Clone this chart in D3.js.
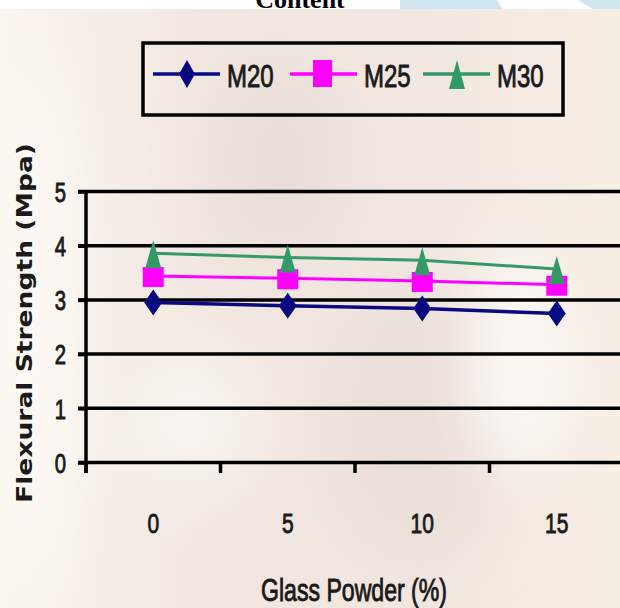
<!DOCTYPE html>
<html>
<head>
<meta charset="utf-8">
<script src="https://cdn.jsdelivr.net/npm/d3@7"></script>
<style>
html,body{margin:0;padding:0;background:#fff;}
svg{display:block;}
</style>
</head>
<body>
<svg id="chart" width="620" height="608"></svg>
<script>
// ---- data ----
const categories = ["0", "5", "10", "15"];
const seriesNames = ["M20", "M25", "M30"];
const m20 = [2.95, 2.89, 2.84, 2.75];
const m25 = [3.44, 3.40, 3.35, 3.28];
const m30 = [3.86, 3.78, 3.73, 3.57];
const yTicks = [0, 1, 2, 3, 4, 5];
const xTitle = "Glass Powder (%)";
const yTitle = "Flexural Strength (Mpa)";
const topText = "Content";

const series = [
  {name: seriesNames[0], values: m20, color: "#0a0a80", shape: "diamond", width: 3.5},
  {name: seriesNames[1], values: m25, color: "#ff00ff", shape: "square", width: 3},
  {name: seriesNames[2], values: m30, color: "#339966", shape: "triangle", width: 3}
];

const svg = d3.select("#chart");
const sans = "'Liberation Sans',Arial,sans-serif";
const squeeze = 0.75;
function condense(sel) {
  sel.each(function() {
    const w = this.getComputedTextLength();
    d3.select(this).attr("textLength", w * squeeze).attr("lengthAdjust", "spacingAndGlyphs");
  });
}
function heavy(sel) {
  sel.attr("stroke", "#1a1a1a").attr("stroke-width", 0.9).attr("paint-order", "stroke");
}

// ---- background (faded photo approximation) ----
const defs = svg.append("defs");
const blur = defs.append("filter").attr("id", "blur").attr("x", "-50%").attr("y", "-50%").attr("width", "200%").attr("height", "200%");
blur.append("feGaussianBlur").attr("stdDeviation", 30);
const bg = defs.append("linearGradient").attr("id", "bgGrad").attr("x1", 0).attr("x2", 1).attr("y1", 0).attr("y2", 0);
bg.append("stop").attr("offset", "0").attr("stop-color", "#faf5ee");
bg.append("stop").attr("offset", "0.35").attr("stop-color", "#f1e6df");
bg.append("stop").attr("offset", "0.7").attr("stop-color", "#f2e7e0");
bg.append("stop").attr("offset", "1").attr("stop-color", "#f7eee4");

svg.append("rect").attr("x", 0).attr("y", 0).attr("width", 620).attr("height", 9).attr("fill", "#ffffff");
svg.append("polygon").attr("points", "400,0 497,0 503,9 400,9").attr("fill", "#cfe5ef");
svg.append("polygon").attr("points", "578,0 620,0 620,9 593,9").attr("fill", "#cfe5ef");
svg.append("rect").attr("x", 0).attr("y", 9).attr("width", 620).attr("height", 599).attr("fill", "url(#bgGrad)");
const blobs = svg.append("g").attr("filter", "url(#blur)");
blobs.append("ellipse").attr("cx", 30).attr("cy", 330).attr("rx", 45).attr("ry", 260).attr("fill", "#fcf9f4");
blobs.append("ellipse").attr("cx", 280).attr("cy", 160).attr("rx", 60).attr("ry", 90).attr("fill", "#e9ddd7");
blobs.append("ellipse").attr("cx", 420).attr("cy", 420).attr("rx", 90).attr("ry", 140).attr("fill", "#ebdfd9");
blobs.append("ellipse").attr("cx", 520).attr("cy", 360).attr("rx", 50).attr("ry", 120).attr("fill", "#fbf8f4");
blobs.append("ellipse").attr("cx", 190).attr("cy", 420).attr("rx", 70).attr("ry", 80).attr("fill", "#f8f3ee");

// top cut-off text (cut off in the reference too)
svg.append("text").attr("x", 300).attr("y", 8).attr("text-anchor", "middle")
  .attr("font-family", "'Liberation Serif','Times New Roman',serif").attr("font-weight", "bold")
  .attr("font-size", 26).attr("fill", "#000").text(topText);

// ---- scales ----
const x = d3.scaleBand().domain(categories).range([86, 86 + 4 * 134.5]);
const y = d3.scaleLinear().domain([0, 5]).range([462.5, 191.5]);

// gridlines
svg.append("g").selectAll("line").data(yTicks).join("line")
  .attr("x1", 78).attr("x2", 620)
  .attr("y1", d => y(d)).attr("y2", d => y(d))
  .attr("stroke", "#000").attr("stroke-width", 3.5);

// y axis
const yAxis = svg.append("g").attr("transform", "translate(86,0)")
  .call(d3.axisLeft(y).tickValues(yTicks).tickSize(8).tickPadding(12).tickFormat(d3.format("d")));
yAxis.select(".domain").remove();
yAxis.selectAll(".tick line").attr("stroke", "#000").attr("stroke-width", 3.5);
yAxis.selectAll(".tick text").attr("font-family", sans).attr("font-size", 27).attr("fill", "#1a1a1a").attr("dy", "0.36em").call(condense).call(heavy);
svg.append("line").attr("x1", 86).attr("x2", 86).attr("y1", y(5) - 1.5).attr("y2", 473)
  .attr("stroke", "#000").attr("stroke-width", 3.5);

// x axis
const xAxis = svg.append("g").attr("transform", `translate(0,${y(0)})`)
  .call(d3.axisBottom(x).tickSize(0).tickPadding(70));
xAxis.select(".domain").remove();
xAxis.selectAll(".tick text").attr("font-family", sans).attr("font-size", 28).attr("fill", "#1a1a1a").attr("dy", "0").call(condense).call(heavy);
svg.append("g").selectAll("line").data(categories).join("line")
  .attr("x1", d => x(d)).attr("x2", d => x(d))
  .attr("y1", y(0)).attr("y2", 473)
  .attr("stroke", "#000").attr("stroke-width", 3.5);

// axis titles
svg.append("text").attr("x", 354).attr("y", 601).attr("text-anchor", "middle")
  .attr("font-family", sans).attr("font-size", 32).attr("fill", "#1a1a1a")
  .attr("textLength", 186).attr("lengthAdjust", "spacingAndGlyphs").text(xTitle).call(heavy);
svg.append("text").attr("transform", "translate(32,323) rotate(-90)").attr("text-anchor", "middle")
  .attr("font-family", "'DejaVu Sans',Verdana,sans-serif").attr("font-weight", "bold")
  .attr("font-size", 22).attr("fill", "#1a1a1a")
  .attr("textLength", 360).attr("lengthAdjust", "spacingAndGlyphs").text(yTitle);

// ---- markers ----
function marker(g, shape, cx, cy, color) {
  if (shape === "diamond") {
    g.append("path").attr("d", `M${cx},${cy - 13}L${cx + 9},${cy}L${cx},${cy + 13}L${cx - 9},${cy}Z`).attr("fill", color);
  } else if (shape === "square") {
    g.append("rect").attr("x", cx - 10.5).attr("y", cy - 9).attr("width", 21).attr("height", 20).attr("fill", color);
  } else {
    g.append("path").attr("d", `M${cx},${cy - 13}L${cx + 8},${cy + 15}L${cx - 8},${cy + 15}Z`).attr("fill", color);
  }
}

const line = d3.line().x((d, i) => x(categories[i]) + x.bandwidth() / 2).y(d => y(d));
const plot = svg.append("g");
series.forEach(s => {
  plot.append("path").datum(s.values).attr("d", line).attr("fill", "none")
    .attr("stroke", s.color).attr("stroke-width", s.width);
  s.values.forEach((v, i) => marker(plot, s.shape, x(categories[i]) + x.bandwidth() / 2, y(v), s.color));
});

// ---- legend ----
const lg = svg.append("g");
lg.append("rect").attr("x", 143).attr("y", 43).attr("width", 420).attr("height", 72)
  .attr("fill", "none").attr("stroke", "#000").attr("stroke-width", 3.5);
const legendX = [153, 290, 423];
series.forEach((s, i) => {
  const lx = legendX[i];
  const ly = 74;
  lg.append("line").attr("x1", lx).attr("x2", lx + 67).attr("y1", ly).attr("y2", ly)
    .attr("stroke", s.color).attr("stroke-width", 3.5);
  if (s.shape === "square") {
    lg.append("rect").attr("x", lx + 23).attr("y", ly - 14).attr("width", 19).attr("height", 27).attr("fill", s.color);
  } else if (s.shape === "diamond") {
    lg.append("path").attr("d", `M${lx + 34},${ly - 14}L${lx + 42},${ly}L${lx + 34},${ly + 14}L${lx + 26},${ly}Z`).attr("fill", s.color);
  } else {
    lg.append("path").attr("d", `M${lx + 34},${ly - 14}L${lx + 42},${ly + 15}L${lx + 26},${ly + 15}Z`).attr("fill", s.color);
  }
  lg.append("text").attr("x", lx + 74).attr("y", 87).attr("font-family", sans)
    .attr("font-size", 32).attr("fill", "#1a1a1a").text(s.name).call(condense).call(heavy);
});
</script>
</body>
</html>
